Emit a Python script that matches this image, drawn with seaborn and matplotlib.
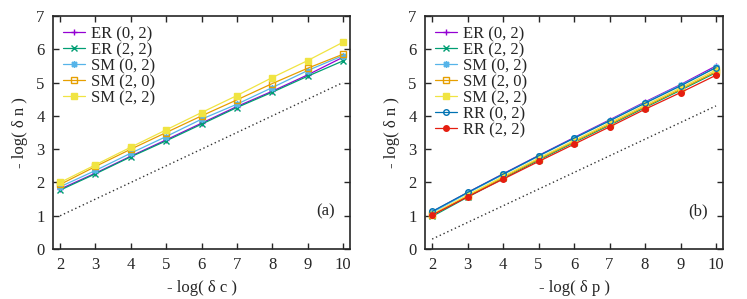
import matplotlib
matplotlib.use("Agg")
import matplotlib.pyplot as plt
import seaborn as sns
import numpy as np

# x values (-log(delta c) / -log(delta p))
x_vals = [2, 3, 4, 5, 6, 7, 8, 9, 10]

# panel (a)
a_er02 = [1.80, 2.28, 2.79, 3.28, 3.78, 4.28, 4.74, 5.23, 5.76]
a_er22 = [1.77, 2.26, 2.77, 3.25, 3.75, 4.25, 4.71, 5.19, 5.65]
a_sm02 = [1.87, 2.36, 2.88, 3.38, 3.90, 4.35, 4.85, 5.36, 5.81]
a_sm20 = [1.94, 2.48, 3.00, 3.50, 4.00, 4.48, 4.97, 5.43, 5.85]
a_sm22 = [2.00, 2.53, 3.06, 3.58, 4.10, 4.61, 5.15, 5.66, 6.21]

# panel (b)
b_er02 = [1.12, 1.70, 2.26, 2.81, 3.35, 3.88, 4.42, 4.94, 5.50]
b_er22 = [0.98, 1.56, 2.12, 2.67, 3.20, 3.72, 4.25, 4.77, 5.30]
b_sm02 = [1.10, 1.68, 2.24, 2.79, 3.33, 3.86, 4.40, 4.92, 5.46]
b_sm20 = [1.02, 1.59, 2.15, 2.70, 3.23, 3.75, 4.28, 4.80, 5.33]
b_sm22 = [1.05, 1.62, 2.18, 2.73, 3.26, 3.79, 4.32, 4.84, 5.38]
b_rr02 = [1.13, 1.70, 2.25, 2.80, 3.33, 3.85, 4.38, 4.90, 5.45]
b_rr22 = [1.02, 1.57, 2.10, 2.63, 3.15, 3.67, 4.20, 4.70, 5.22]

# reference dotted lines
ref_x = [2, 10]
ref_a = [1.0, 5.0]
ref_b = [0.3, 4.3]

labels = ["ER (0, 2)", "ER (2, 2)", "SM (0, 2)", "SM (2, 0)", "SM (2, 2)", "RR (0, 2)", "RR (2, 2)"]
colors = ["#9400d3", "#009e73", "#56b4e9", "#e69f00", "#f0e442", "#0072b2", "#e51e10"]
markers = ["+", "x", (8, 2, 0), "s", "s", "o", "o"]
filled = [True, True, True, False, True, False, True]
msizes = [5, 4, 5, 5, 5, 4, 4]

sns.set_style("ticks")
plt.rcParams["font.family"] = ["Liberation Serif", "DejaVu Sans"]
plt.rcParams["font.size"] = 12

fig = plt.figure(figsize=(7.47, 2.99), dpi=100)
ax1 = fig.add_axes([0.071, 0.167, 0.3975, 0.7795])
ax2 = fig.add_axes([0.569, 0.167, 0.399, 0.7795])


def draw(ax, series, ref_y, xlabel, tag):
    for i, ys in enumerate(series):
        sns.lineplot(x=x_vals, y=ys, ax=ax, color=colors[i], linewidth=0.9,
                     marker=markers[i], markersize=msizes[i],
                     markerfacecolor=colors[i] if filled[i] else "none",
                     markeredgecolor=colors[i], markeredgewidth=1.0,
                     label=labels[i])
    ax.plot(ref_x, ref_y, color="#333333", linestyle=(0, (1, 2.0)), linewidth=1.0)
    ax.set_xlim(1.8, 10.2)
    ax.set_ylim(0, 7)
    ax.set_xticks(range(2, 11))
    ax.set_yticks(range(0, 8))
    ax.tick_params(direction="in", top=True, right=True, length=4, width=1,
                   labelsize=12, pad=6)
    for sp in ax.spines.values():
        sp.set_linewidth(1.2)
        sp.set_visible(True)
    ax.set_xlabel(xlabel, fontsize=12, labelpad=5)
    ax.set_ylabel("- log( δ n )", fontsize=12, labelpad=6)
    ax.text(0.95, 0.16, tag, transform=ax.transAxes, fontsize=12, ha="right", va="center")
    ax.legend(loc="upper left", bbox_to_anchor=(0.0, 1.0), frameon=False,
              fontsize=12, handlelength=1.3, handletextpad=0.4,
              labelspacing=0.0, borderaxespad=0.4, borderpad=0.2)


draw(ax1, [a_er02, a_er22, a_sm02, a_sm20, a_sm22], ref_a, "- log( δ c )", "(a)")
draw(ax2, [b_er02, b_er22, b_sm02, b_sm20, b_sm22, b_rr02, b_rr22], ref_b, "- log( δ p )", "(b)")

fig.savefig("out.png", dpi=100)
